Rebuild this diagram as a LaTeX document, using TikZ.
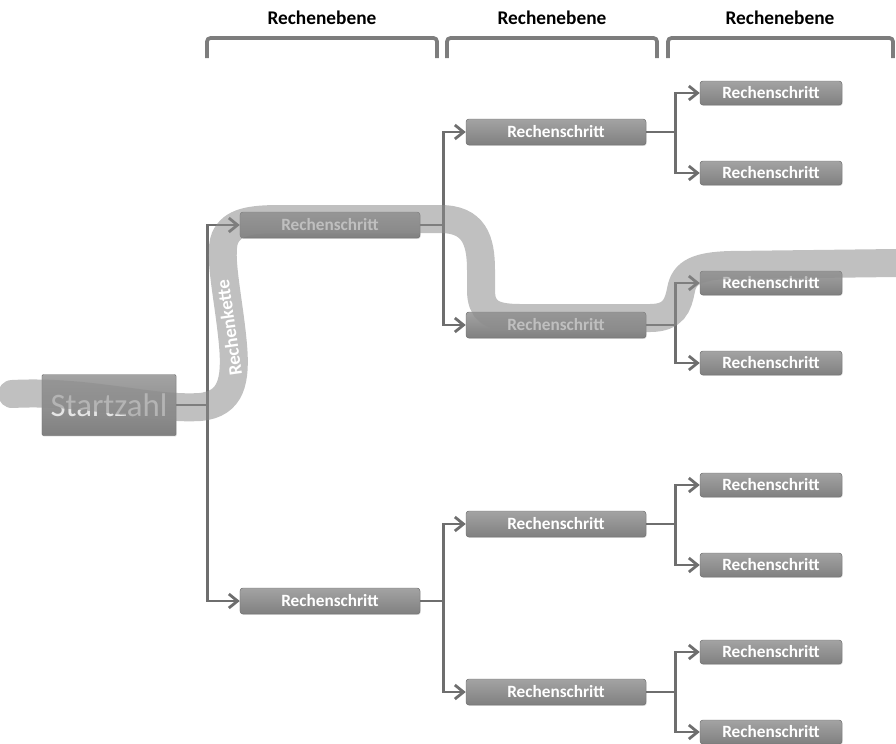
\documentclass[tikz,border=0pt]{standalone}
\usepackage{fontspec}
\setmainfont{Carlito}
\usepackage{xcolor}
\usetikzlibrary{arrows.meta,shadows}
\definecolor{linegray}{HTML}{6E6E6E}
\definecolor{boxtop}{HTML}{A3A3A3}
\definecolor{boxbot}{HTML}{808080}
\definecolor{bandgray}{HTML}{8C8C8C}
\tikzset{
  schritt/.style={draw=linegray, rounded corners=2.5pt, top color=boxtop, bottom color=boxbot,
    minimum width=5.4cm, minimum height=0.78cm, inner sep=0pt, text=white,
    font=\fontsize{14.7}{17}\selectfont\bfseries, drop shadow={opacity=0.35, shadow xshift=0.6pt, shadow yshift=-0.8pt}},
  blatt/.style={schritt, minimum width=4.26cm, minimum height=0.72cm},
  pfeil/.style={draw=linegray, line width=2.4pt, -{Straight Barb[length=2.6mm, width=4.2mm]}},
  klammer/.style={draw=linegray!90, line width=3.2pt, rounded corners=3pt},
  ebene/.style={font=\fontsize{16.5}{18}\selectfont\bfseries, text=black}
}
\begin{document}
\begin{tikzpicture}[x=0.03cm, y=-0.03cm]
\useasboundingbox (0,0) rectangle (896,743);
\node[ebene] (e1) at (322,18) {Rechenebene};
\node[ebene] (e2) at (552,18) {Rechenebene};
\node[ebene] (e3) at (780,18) {Rechenebene};
\draw[klammer] (207,58) -- (207,38) -- (437,38) -- (437,58);
\draw[klammer] (447,58) -- (447,38) -- (657,38) -- (657,58);
\draw[klammer] (668,58) -- (668,38) -- (893,38) -- (893,58);
\node[schritt, minimum width=4.02cm, minimum height=1.83cm, rounded corners=1pt, text=white!80!gray,
  font=\fontsize{28}{30}\selectfont] (start) at (109,405) {Startzahl};
\node[schritt] (a1) at (330,225) {Rechenschritt};
\node[schritt] (a2) at (330,601) {Rechenschritt};
\node[schritt] (b1) at (556,132) {Rechenschritt};
\node[schritt] (b2) at (556,325) {Rechenschritt};
\node[schritt] (b3) at (556,524) {Rechenschritt};
\node[schritt] (b4) at (556,692) {Rechenschritt};
\node[blatt] (c1) at (771,93) {Rechenschritt};
\node[blatt] (c2) at (771,173) {Rechenschritt};
\node[blatt] (c3) at (771,283) {Rechenschritt};
\node[blatt] (c4) at (771,363) {Rechenschritt};
\node[blatt] (c5) at (771,485) {Rechenschritt};
\node[blatt] (c6) at (771,565) {Rechenschritt};
\node[blatt] (c7) at (771,652) {Rechenschritt};
\node[blatt] (c8) at (771,732) {Rechenschritt};
\foreach \kind in {a1,a2}
  \draw[pfeil] (start.east) -- ++(31,0) |- (\kind);
\foreach \kind in {b1,b2}
  \draw[pfeil] (a1.east) -- ++(23,0) |- (\kind);
\foreach \kind in {b3,b4}
  \draw[pfeil] (a2.east) -- ++(23,0) |- (\kind);
\foreach \eltern/\kinda/\kindb in {b1/c1/c2, b2/c3/c4, b3/c5/c6, b4/c7/c8} {
  \draw[pfeil] (\eltern.east) -- ++(29,0) |- (\kinda);
  \draw[pfeil] (\eltern.east) -- ++(29,0) |- (\kindb);
}
\draw[bandgray, line width=0.84cm, opacity=0.55, line cap=round]
  (12,394) .. controls (90,390) and (150,410) .. (200,407)
  .. controls (232,404) and (236,380) .. (233,345)
  .. controls (229,300) and (218,255) .. (225,238)
  .. controls (232,222) and (250,219) .. (280,219) -- (440,219)
  .. controls (474,219) and (481,240) .. (481,270) -- (481,290)
  .. controls (481,310) and (490,318) .. (520,318) -- (650,318)
  .. controls (674,318) and (678,305) .. (681,290)
  .. controls (684,272) and (698,266) .. (730,265) -- (896,263);
\node[rotate=98, text=white, font=\fontsize{16}{18}\selectfont\bfseries] (kette) at (229,328) {Rechenkette};
\end{tikzpicture}
\end{document}
